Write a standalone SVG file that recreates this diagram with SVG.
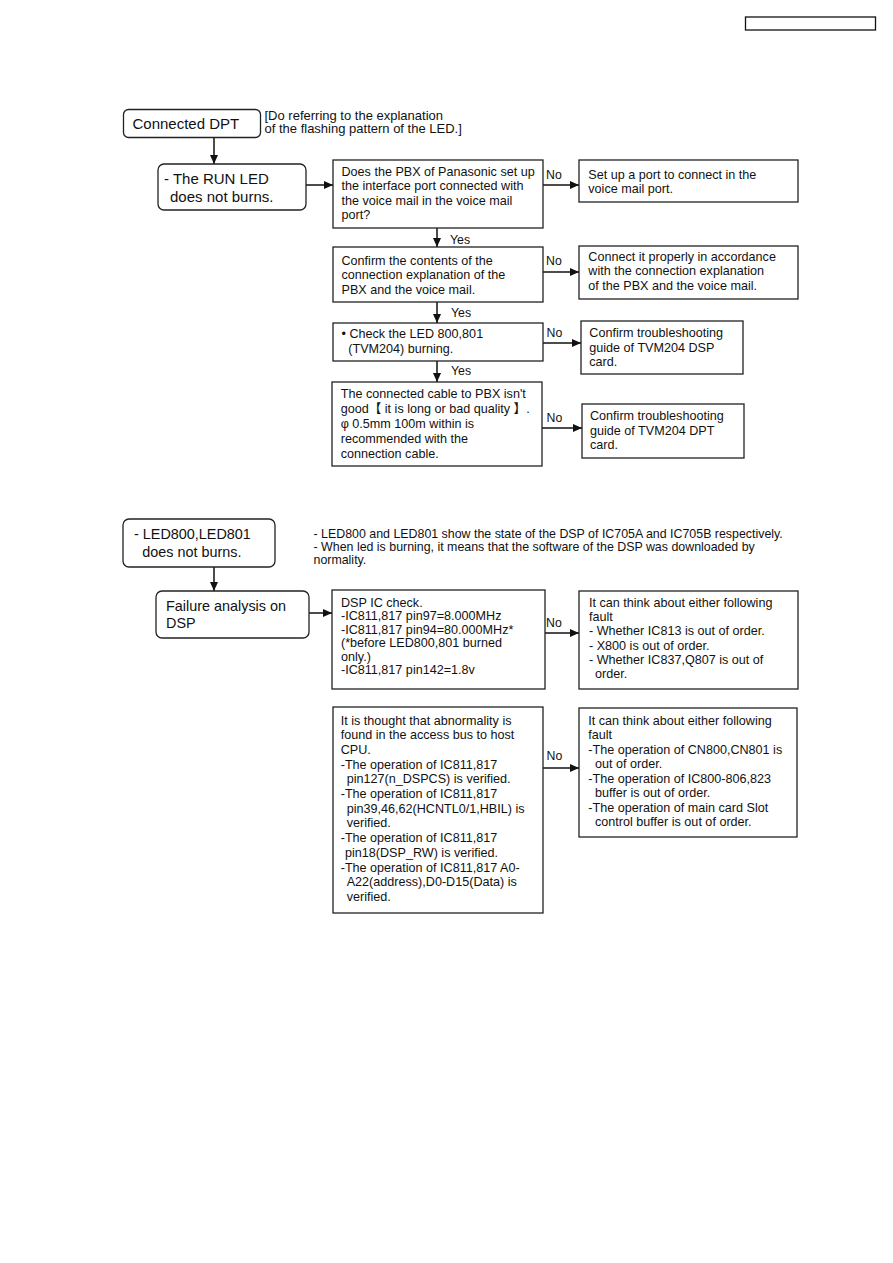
<svg xmlns="http://www.w3.org/2000/svg" width="893" height="1263" viewBox="0 0 893 1263">
<style>
text{font-family:"Liberation Sans","Noto Sans CJK JP",Arial,sans-serif;fill:#111}
.t{font-size:12.6px}
.h{font-size:15px}
.h2{font-size:14.4px}
.n{font-size:13px}
.n2{font-size:12.4px}
.l{font-size:12.3px}
.b{fill:#fff;stroke:#222;stroke-width:1.3}
.c{fill:none;stroke:#111;stroke-width:1.5;marker-end:url(#ah)}
</style>
<defs>
<marker id="ah" viewBox="0 0 9 8" refX="9" refY="4" markerWidth="9" markerHeight="8" markerUnits="userSpaceOnUse" orient="auto">
<path d="M0,0 L9,4 L0,8 z" fill="#111"/>
</marker>
</defs>
<rect fill="#fff" x="0" y="0" width="893" height="1263"/>
<g id="header"><rect x="745.5" y="17" width="130" height="13" fill="#fff" stroke="#111" stroke-width="1.3"/></g>

<g id="connectors">
<path class="c" d="M214,137.5 V164"/>
<path class="c" d="M306,185 H333"/>
<path class="c" d="M543,185 H579"/>
<path class="c" d="M437,228 V247"/>
<path class="c" d="M543,272 H579"/>
<path class="c" d="M437,302 V323"/>
<path class="c" d="M543,343 H581"/>
<path class="c" d="M437,361 V382"/>
<path class="c" d="M542,428 H582"/>
<path class="c" d="M214,567 V591"/>
<path class="c" d="M309,613 H332"/>
<path class="c" d="M545,633 H579"/>
<path class="c" d="M543,768 H579"/>
</g>

<g id="labels">
<text class="l" x="546" y="179">No</text>
<text class="l" x="450" y="244">Yes</text>
<text class="l" x="546" y="265">No</text>
<text class="l" x="451" y="317">Yes</text>
<text class="l" x="546.5" y="337">No</text>
<text class="l" x="451" y="375">Yes</text>
<text class="l" x="546.5" y="422">No</text>
<text class="l" x="546" y="627">No</text>
<text class="l" x="546.5" y="760">No</text>
</g>

<g id="node-connected">
<rect class="b" x="123.5" y="109.5" width="137" height="28" rx="5"/>
<text class="h" x="132.5" y="129.3">Connected DPT</text>
</g>
<g id="note1">
<text class="n" x="264.5" y="120">[Do referring to the explanation</text>
<text class="n" x="264.5" y="132.5">of the flashing pattern of the LED.]</text>
</g>
<g id="node-runled">
<rect class="b" x="158" y="164" width="148" height="46" rx="6"/>
<text class="h" x="164" y="184">- The RUN LED</text>
<text class="h" x="170" y="201.7">does not burns.</text>
</g>
<g id="node-q1">
<rect class="b" x="333" y="160" width="210" height="68"/>
<text class="t" x="341.5" y="176">Does the PBX of Panasonic set up</text>
<text class="t" x="341.5" y="190.3">the interface port connected with</text>
<text class="t" x="341.5" y="204.6">the voice mail in the voice mail</text>
<text class="t" x="341.5" y="218.9">port?</text>
</g>
<g id="node-setup">
<rect class="b" x="579" y="160" width="219" height="42"/>
<text class="t" x="588.3" y="179">Set up a port to connect in the</text>
<text class="t" x="588.3" y="193.3">voice mail port.</text>
</g>
<g id="node-q2">
<rect class="b" x="333" y="247" width="210" height="55"/>
<text class="t" x="341.5" y="265">Confirm the contents of the</text>
<text class="t" x="341.5" y="279.3">connection explanation of the</text>
<text class="t" x="341.5" y="293.6">PBX and the voice mail.</text>
</g>
<g id="node-connect">
<rect class="b" x="579" y="246" width="219" height="53"/>
<text class="t" x="588.3" y="261">Connect it properly in accordance</text>
<text class="t" x="588.3" y="275.3">with the connection explanation</text>
<text class="t" x="588.3" y="289.6">of the PBX and the voice mail.</text>
</g>
<g id="node-q3">
<rect class="b" x="333" y="323" width="210" height="38"/>
<text class="t" x="341.5" y="338.3">• Check the LED 800,801</text>
<text class="t" x="348.3" y="353.3">(TVM204) burning.</text>
</g>
<g id="node-dspcard">
<rect class="b" x="581" y="321" width="162" height="53"/>
<text class="t" x="589.3" y="336.7">Confirm troubleshooting</text>
<text class="t" x="589.3" y="351.5">guide of TVM204 DSP</text>
<text class="t" x="589.3" y="366">card.</text>
</g>
<g id="node-q4">
<rect class="b" x="332" y="382" width="210" height="84"/>
<text class="t" x="340.7" y="398.3">The connected cable to PBX isn't</text>
<text class="t" x="340.7" y="413.1">good【 it is long or bad quality 】.</text>
<text class="t" x="340.7" y="427.9">φ 0.5mm 100m within is</text>
<text class="t" x="340.7" y="442.7">recommended with the</text>
<text class="t" x="340.7" y="457.5">connection cable.</text>
</g>
<g id="node-dptcard">
<rect class="b" x="582" y="404" width="162" height="54"/>
<text class="t" x="590" y="420">Confirm troubleshooting</text>
<text class="t" x="590" y="434.7">guide of TVM204 DPT</text>
<text class="t" x="590" y="449.3">card.</text>
</g>

<g id="node-led800">
<rect class="b" x="123" y="519" width="152" height="48" rx="6"/>
<text class="h2" x="134" y="539">- LED800,LED801</text>
<text class="h2" x="142.3" y="556.7">does not burns.</text>
</g>
<g id="note2">
<text class="n2" x="313.5" y="538.3">- LED800 and LED801 show the state of the DSP of IC705A and IC705B respectively.</text>
<text class="n2" x="313.5" y="551">- When led is burning, it means that the software of the DSP was downloaded by</text>
<text class="n2" x="313.5" y="563.5">normality.</text>
</g>
<g id="node-failure">
<rect class="b" x="156" y="591" width="153" height="47" rx="6"/>
<text class="h2" x="166" y="611">Failure analysis on</text>
<text class="h2" x="166" y="628.3">DSP</text>
</g>
<g id="node-dspcheck">
<rect class="b" x="332" y="590" width="213" height="99"/>
<text class="t" x="341" y="606.7">DSP IC check.</text>
<text class="t" x="341" y="620.2">-IC811,817 pin97=8.000MHz</text>
<text class="t" x="341" y="633.7">-IC811,817 pin94=80.000MHz*</text>
<text class="t" x="341" y="647.2">(*before LED800,801 burned</text>
<text class="t" x="341" y="660.7">only.)</text>
<text class="t" x="341" y="674.2">-IC811,817 pin142=1.8v</text>
</g>
<g id="node-fault1">
<rect class="b" x="579" y="591" width="219" height="98"/>
<text class="t" x="589" y="606.7">It can think about either following</text>
<text class="t" x="589" y="621">fault</text>
<text class="t" x="589" y="635.3">- Whether IC813 is out of order.</text>
<text class="t" x="589" y="649.6">- X800 is out of order.</text>
<text class="t" x="589" y="663.9">- Whether IC837,Q807 is out of</text>
<text class="t" x="595" y="678.2">order.</text>
</g>
<g id="node-access">
<rect class="b" x="333" y="707" width="210" height="206"/>
<text class="t" x="340.7" y="724.5">It is thought that abnormality is</text>
<text class="t" x="340.7" y="739.2">found in the access bus to host</text>
<text class="t" x="340.7" y="753.9">CPU.</text>
<text class="t" x="340.7" y="768.6">-The operation of IC811,817</text>
<text class="t" x="346.7" y="783.3">pin127(n_DSPCS) is verified.</text>
<text class="t" x="340.7" y="798">-The operation of IC811,817</text>
<text class="t" x="346.7" y="812.7">pin39,46,62(HCNTL0/1,HBIL) is</text>
<text class="t" x="346.7" y="827.4">verified.</text>
<text class="t" x="340.7" y="842.1">-The operation of IC811,817</text>
<text class="t" x="345" y="856.8">pin18(DSP_RW) is verified.</text>
<text class="t" x="340.7" y="871.5">-The operation of IC811,817 A0-</text>
<text class="t" x="346.7" y="886.2">A22(address),D0-D15(Data) is</text>
<text class="t" x="346.7" y="900.9">verified.</text>
</g>
<g id="node-fault2">
<rect class="b" x="579" y="708" width="218" height="129"/>
<text class="t" x="588.3" y="724.5">It can think about either following</text>
<text class="t" x="588.3" y="739">fault</text>
<text class="t" x="588.3" y="753.5">-The operation of CN800,CN801 is</text>
<text class="t" x="595" y="768">out of order.</text>
<text class="t" x="588.3" y="782.5">-The operation of IC800-806,823</text>
<text class="t" x="595" y="797">buffer is out of order.</text>
<text class="t" x="588.3" y="811.5">-The operation of main card Slot</text>
<text class="t" x="595" y="826">control buffer is out of order.</text>
</g>
</svg>
